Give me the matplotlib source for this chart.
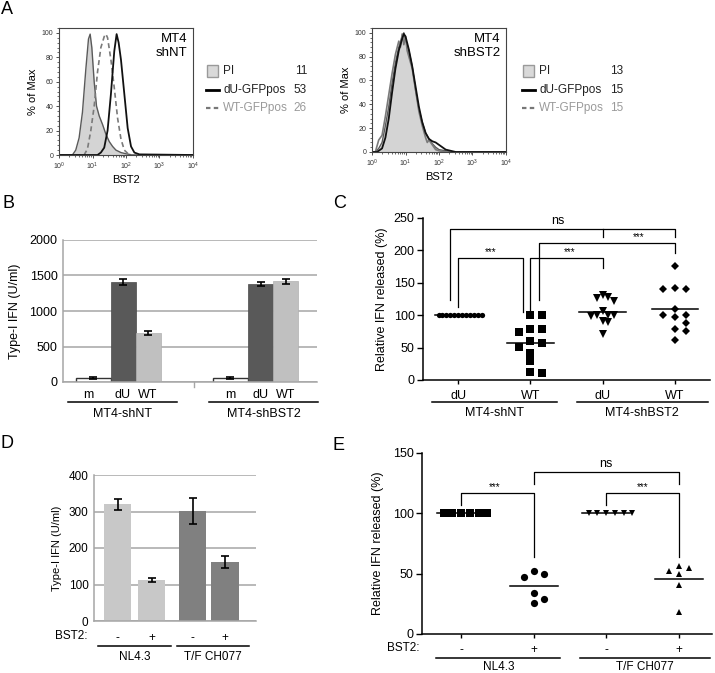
import numpy as np
import matplotlib
matplotlib.use("Agg")
import matplotlib.pyplot as plt
from matplotlib.patches import Rectangle
from matplotlib.lines import Line2D
from matplotlib.transforms import blended_transform_factory
from matplotlib.ticker import MultipleLocator, LogLocator, NullFormatter

plt.rcParams['font.family'] = ['Liberation Sans', 'DejaVu Sans']
plt.rcParams['mathtext.fontset'] = 'custom'
plt.rcParams['mathtext.rm'] = 'Liberation Sans'

# === data ===
# A: BST2 staining histograms (log10 BST2, % of max)
nt_pi_x = [0.0, 0.40, 0.50, 0.60, 0.70, 0.80, 0.88, 0.93, 0.98, 1.05, 1.12, 1.20, 1.30,
           1.40, 1.50, 1.60, 1.70, 1.85, 2.0, 2.2, 4.0]
nt_pi_y = [0, 0, 4, 14, 35, 70, 95, 99, 88, 60, 40, 32, 25, 17, 11, 7, 4, 2, 1, 0, 0]
nt_du_x = [0, 1.15, 1.25, 1.35, 1.45, 1.55, 1.65, 1.72, 1.78, 1.85, 1.95, 2.05, 2.15,
           2.25, 2.4, 4.0]
nt_du_y = [0, 0, 2, 6, 20, 50, 85, 99, 92, 78, 50, 22, 7, 2, 0.5, 0]
nt_wt_x = [0, 0.75, 0.85, 0.95, 1.05, 1.15, 1.25, 1.35, 1.40, 1.45, 1.55, 1.65, 1.75,
           1.85, 1.95, 2.1, 4.0]
nt_wt_y = [0, 0, 5, 20, 40, 68, 88, 97, 99, 96, 78, 55, 30, 13, 4, 0, 0]

sh_pi_x = [0, 0.1, 0.2, 0.3, 0.4, 0.5, 0.6, 0.7, 0.8, 0.9, 0.95, 1.0, 1.1, 1.2, 1.3,
           1.4, 1.5, 1.6, 1.7, 1.8, 1.9, 2.0, 2.2, 2.4, 4.0]
sh_pi_y = [0, 0, 3, 8, 22, 38, 58, 75, 88, 97, 100, 95, 85, 72, 52, 36, 25, 16, 11, 7,
           4, 2, 1, 0, 0]
sh_du_x = [0, 0.15, 0.3, 0.4, 0.5, 0.6, 0.7, 0.8, 0.9, 0.95, 1.0, 1.1, 1.2, 1.3, 1.4,
           1.5, 1.6, 1.7, 1.8, 1.9, 2.0, 2.1, 2.2, 2.35, 2.5, 4.0]
sh_du_y = [0, 0, 3, 12, 28, 50, 70, 85, 95, 99, 97, 86, 72, 55, 38, 25, 16, 11, 9, 8,
           6, 4, 2, 1, 0, 0]
sh_wt_x = [0, 0.1, 0.2, 0.25, 0.3, 0.4, 0.5, 0.6, 0.7, 0.8, 0.85, 0.9, 0.95, 1.0, 1.05,
           1.1, 1.2, 1.3, 1.4, 1.5, 1.6, 1.65, 1.7, 1.8, 1.9, 2.0, 2.2, 4.0]
sh_wt_y = [0, 0, 10, 12, 14, 30, 48, 66, 82, 93, 88, 99, 90, 97, 85, 80, 70, 52, 34, 22,
           12, 8, 10, 6, 2, 1, 0, 0]

hist_legend = ["PI", "dU-GFPpos", "WT-GFPpos"]
nt_mfi = [11, 53, 26]
sh_mfi = [13, 15, 15]

# B: type-I IFN (U/ml)
b_groups = ["MT4-shNT", "MT4-shBST2"]
b_virus = ["m", "dU", "WT"]
b_nt_vals = [60, 1410, 690]
b_nt_err = [15, 40, 22]
b_sh_vals = [60, 1382, 1418]
b_sh_err = [15, 30, 38]

# C: relative IFN released (%)
c_labels = ["dU", "WT", "dU", "WT"]
c_groups = ["MT4-shNT", "MT4-shBST2"]
c_du_nt = [100] * 12
c_wt_nt = [100, 100, 79, 74, 78, 60, 57, 51, 42, 29, 11, 12]
c_du_sh = [128, 131, 122, 126, 100, 100, 101, 106, 91, 89, 71, 98]
c_wt_sh = [176, 142, 140, 141, 110, 101, 101, 97, 88, 78, 75, 61]

# D: type-I IFN (U/ml)
d_bst2 = ["-", "+", "-", "+"]
d_groups = ["NL4.3", "T/F CH077"]
d_vals = [320, 111, 302, 161]
d_err = [15, 5.5, 36, 17]

# E: relative IFN released (%)
e_bst2 = ["-", "+", "-", "+"]
e_groups = ["NL4.3", "T/F CH077"]
e_nl_minus = [100] * 6
e_nl_plus = [52.5, 47, 49.7, 34.2, 26, 28.7]
e_tf_minus = [100] * 6
e_tf_plus = [55, 49.4, 52, 56.6, 40.3, 18]

# === figure helpers (pixel layout) ===
W, H = 715, 673
fig = plt.figure(figsize=(W / 100, H / 100), dpi=100)


def px_axes(l, t, r, b):
    return fig.add_axes([l / W, 1 - b / H, (r - l) / W, (b - t) / H])


def ftext(x, y, s, **kw):
    fig.text(x / W, 1 - y / H, s, **kw)


def swarm(vals, step, thr):
    # spread points of similar value sideways (column scatter)
    vals = np.asarray(vals, float)
    offs = np.zeros(len(vals))
    placed = []
    for i in np.argsort(-vals, kind="stable"):
        k = 0
        while True:
            slot = ((k + 1) // 2) * (1 if k % 2 else -1)
            if not any(s == slot and abs(v - vals[i]) < thr for s, v in placed):
                break
            k += 1
        placed.append((slot, vals[i]))
        offs[i] = slot * step
    return offs


def group_lines(ax, spans, labels, y_line, y_text, fs):
    tr = blended_transform_factory(ax.transData, ax.transAxes)
    for (x0, x1), lab in zip(spans, labels):
        ax.plot([x0, x1], [y_line, y_line], color="k", lw=1.1, transform=tr, clip_on=False)
        ax.text((x0 + x1) / 2, y_text, lab, transform=tr, ha="center", va="center", fontsize=fs)


# panel letters
for lab, x, y in [("A", 7, 10), ("B", 9, 204), ("C", 340, 204), ("D", 7, 444), ("E", 339, 445)]:
    ftext(x, y, lab, fontsize=13, ha="center", va="center")

# === A: histograms ===
hist_sets = [
    ((59, 28, 193, 155), "MT4\nshNT", nt_pi_x, nt_pi_y, nt_du_x, nt_du_y, nt_wt_x, nt_wt_y, "--"),
    ((372, 28, 506, 152), "MT4\nshBST2", sh_pi_x, sh_pi_y, sh_du_x, sh_du_y, sh_wt_x, sh_wt_y, "-"),
]
for rect, title, px_, py_, dx_, dy_, wx_, wy_, wls in hist_sets:
    ax = px_axes(*rect)
    ax.fill_between(10 ** np.array(px_), py_, color="#d4d4d4", lw=0)
    ax.plot(10 ** np.array(px_), py_, color="#5a5a5a", lw=1.0)
    ax.plot(10 ** np.array(wx_), wy_, color="#7a7a7a", lw=1.2, ls=wls, dashes=(3, 2) if wls == "--" else (None, None))
    ax.plot(10 ** np.array(dx_), dy_, color="#111111", lw=1.3)
    ax.set_xscale("log")
    ax.set_xlim(1, 1e4)
    ax.set_ylim(0, 104)
    ax.yaxis.set_major_locator(MultipleLocator(20))
    ax.yaxis.set_minor_locator(MultipleLocator(4))
    ax.xaxis.set_major_locator(LogLocator(base=10, numticks=10))
    ax.xaxis.set_minor_locator(LogLocator(base=10, subs=np.arange(2, 10), numticks=10))
    ax.xaxis.set_minor_formatter(NullFormatter())
    ax.tick_params(which="major", length=2.5, width=0.6, labelsize=5, pad=1.5, colors="#333333")
    ax.tick_params(which="minor", length=1.3, width=0.5, colors="#333333")
    for s in ax.spines.values():
        s.set_color("#444444")
        s.set_linewidth(0.8)
    ax.set_ylabel("% of Max", fontsize=8, labelpad=3)
    ax.set_xlabel("BST2", fontsize=8, labelpad=2)
    ax.text(0.96, 0.96, title, transform=ax.transAxes, ha="right", va="top",
            fontsize=9.5, linespacing=1.25)

# legends of A
for x0, xnum, mfi in [(207, 307, nt_mfi), (523, 623, sh_mfi)]:
    rows = [71, 90, 108]
    fig.add_artist(Rectangle((x0 / W, 1 - (rows[0] + 5.5) / H), 11 / W, 11 / H,
                             transform=fig.transFigure, fc="#d9d9d9", ec="#9a9a9a", lw=1))
    fig.add_artist(Line2D([(x0 - 1) / W, (x0 + 12) / W], [1 - rows[1] / H] * 2,
                          transform=fig.transFigure, color="k", lw=2))
    fig.add_artist(Line2D([(x0 - 1) / W, (x0 + 12) / W], [1 - rows[2] / H] * 2,
                          transform=fig.transFigure, color="#777777", lw=1.6, ls=(0, (2, 1.5))))
    colors = ["#222222", "#222222", "#9a9a9a"]
    for name, val, y, c in zip(hist_legend, mfi, rows, colors):
        ftext(x0 + 16, y, name, fontsize=8.5, va="center", ha="left", color=c)
        ftext(xnum, y, str(val), fontsize=8.5, va="center", ha="right", color=c)

# === B: bar chart ===
axb = px_axes(63, 240, 317, 382)
b_pos = [1.2, 2.4, 3.4, 6.7, 7.9, 8.9]
b_width = [1.4, 1.0, 1.0, 1.4, 1.0, 1.0]
b_colors = ["white", "#595959", "#c0c0c0"] * 2
b_vals = b_nt_vals + b_sh_vals
b_err = b_nt_err + b_sh_err
axb.set_axisbelow(True)
axb.yaxis.grid(True, color="#a6a6a6", lw=1.1)
axb.bar(b_pos, b_vals, width=b_width, color=b_colors,
        edgecolor=["#333333", "#4a4a4a", "#b0b0b0"] * 2, linewidth=[1.0, 0.5, 0.5] * 2, zorder=2)
axb.errorbar(b_pos, b_vals, yerr=b_err, fmt="none", ecolor="k", elinewidth=1.2,
             capsize=3.2, capthick=1.2, zorder=3)
axb.set_xlim(0, 10.16)
axb.set_ylim(0, 2000)
axb.set_yticks([0, 500, 1000, 1500, 2000])
axb.set_xticks([1.0, 2.4, 3.4, 6.7, 7.9, 8.9])
axb.set_xticklabels(b_virus * 2)
axb.tick_params(axis="both", length=0, labelsize=9)
axb.tick_params(axis="x", pad=5)
axb.tick_params(axis="y", pad=4)
for s in ["top", "right"]:
    axb.spines[s].set_visible(False)
for s in ["left", "bottom"]:
    axb.spines[s].set_color("#a6a6a6")
    axb.spines[s].set_linewidth(1.1)
axb.plot([5.24, 5.24], [0, -0.035], color="#a6a6a6", lw=1,
         transform=blended_transform_factory(axb.transData, axb.transAxes), clip_on=False)
axb.set_ylabel("Type-I IFN (U/ml)", fontsize=9, labelpad=6)
group_lines(axb, [(0.2, 4.56), (5.84, 10.2)], b_groups, -0.141, -0.225, 9)

# === C: scatter with means ===
axc = px_axes(423, 218, 710, 380)
c_sets = [
    (1, c_du_nt, "o", 3.8, 0.055),
    (2, c_wt_nt, "s", 5.2, 0.16),
    (3, c_du_sh, "v", 5.2, 0.08),
    (4, c_wt_sh, "D", 3.6, 0.16),
]
for xc, vals, mk, ms, step in c_sets:
    offs = swarm(vals, step, 10)
    axc.plot(xc + offs, vals, ls="none", marker=mk, ms=ms, color="k", mew=0, zorder=3)
    m = np.mean(vals)
    axc.plot([xc - 0.32, xc + 0.32], [m, m], color="k", lw=1.1, zorder=2)
axc.set_xlim(0.51, 4.49)
axc.set_ylim(0, 250)
axc.set_yticks([0, 50, 100, 150, 200, 250])
axc.set_xticks([1, 2, 3, 4])
axc.set_xticklabels(c_labels)
axc.tick_params(axis="y", length=4, width=1, labelsize=9, pad=2)
axc.tick_params(axis="x", length=3, width=1, labelsize=9, pad=4)
for s in ["top", "right"]:
    axc.spines[s].set_visible(False)
for s in ["left", "bottom"]:
    axc.spines[s].set_linewidth(1.1)
axc.set_ylabel("Relative IFN released (%)", fontsize=9, labelpad=4)
group_lines(axc, [(0.64, 2.37), (2.64, 4.46)], c_groups, -0.136, -0.205, 9)

bk = dict(color="k", lw=0.9, clip_on=False)
axc.plot([1, 1, 1.89, 1.89], [113, 188, 188, 105], **bk)
axc.text(1.45, 189, "***", ha="center", va="bottom", fontsize=7)
axc.plot([2.0, 2.0, 3.0, 3.0], [105, 188, 188, 173], **bk)
axc.text(2.55, 189, "***", ha="center", va="bottom", fontsize=7)
axc.plot([2.12, 2.12, 4.0, 4.0], [124, 212, 212, 196], **bk)
axc.text(3.5, 213, "***", ha="center", va="bottom", fontsize=7)
axc.plot([0.88, 0.88, 4.0, 4.0], [124, 233, 233, 221], **bk)
axc.plot([3.0, 3.0], [233, 221], **bk)
axc.text(2.38, 236, "ns", ha="center", va="bottom", fontsize=9)

# === D: bar chart ===
axd = px_axes(94, 475, 256, 621)
d_pos = [0.7, 1.7, 2.9, 3.85]
d_colors = ["#c8c8c8", "#c8c8c8", "#808080", "#808080"]
axd.set_axisbelow(True)
axd.yaxis.grid(True, color="#a6a6a6", lw=1.1)
axd.bar(d_pos, d_vals, width=0.8, color=d_colors, zorder=2)
axd.errorbar(d_pos, d_vals, yerr=d_err, fmt="none", ecolor="k", elinewidth=1.2,
             capsize=3, capthick=1.2, zorder=3)
axd.set_xlim(0, 4.76)
axd.set_ylim(0, 400)
axd.set_yticks([0, 100, 200, 300, 400])
axd.set_xticks(d_pos)
axd.set_xticklabels(d_bst2)
axd.tick_params(axis="both", length=0, labelsize=8.5)
axd.tick_params(axis="x", pad=8)
axd.tick_params(axis="y", pad=4)
for s in ["top", "right"]:
    axd.spines[s].set_visible(False)
for s in ["left", "bottom"]:
    axd.spines[s].set_color("#a6a6a6")
    axd.spines[s].set_linewidth(1.1)
axd.set_ylabel("Type-I IFN (U/ml)", fontsize=8, labelpad=5)
ftext(87, 636, "BST2:", fontsize=8.5, ha="right", va="center")
group_lines(axd, [(0.12, 2.26), (2.44, 4.56)], d_groups, -0.171, -0.247, 8.5)

# === E: scatter with means ===
axe = px_axes(422, 453, 712, 634)
e_sets = [
    (1, e_nl_minus, "s", 5.2, 0.12),
    (2, e_nl_plus, "o", 5.2, 0.14),
    (3, e_tf_minus, "v", 5.0, 0.12),
    (4, e_tf_plus, "^", 5.0, 0.14),
]
for xc, vals, mk, ms, step in e_sets:
    offs = swarm(vals, step, 5.8)
    axe.plot(xc + offs, vals, ls="none", marker=mk, ms=ms, color="k", mew=0, zorder=3)
    m = np.mean(vals)
    axe.plot([xc - 0.33, xc + 0.33], [m, m], color="k", lw=1.1, zorder=2)
axe.set_xlim(0.46, 4.46)
axe.set_ylim(0, 150)
axe.set_yticks([0, 50, 100, 150])
axe.set_xticks([1, 2, 3, 4])
axe.set_xticklabels(e_bst2)
axe.tick_params(axis="y", length=4, width=1, labelsize=9, pad=2)
axe.tick_params(axis="x", length=3, width=1, labelsize=8.5, pad=4)
for s in ["top", "right"]:
    axe.spines[s].set_visible(False)
for s in ["left", "bottom"]:
    axe.spines[s].set_linewidth(1.1)
axe.set_ylabel("Relative IFN released (%)", fontsize=9, labelpad=6)
ftext(420, 648, "BST2:", fontsize=8.5, ha="right", va="center")
group_lines(axe, [(0.655, 2.37), (2.64, 4.43)], e_groups, -0.135, -0.18, 8.5)

axe.plot([1, 1, 2, 2], [107, 117, 117, 64], **bk)
axe.text(1.46, 118, "***", ha="center", va="bottom", fontsize=7)
axe.plot([3, 3, 4, 4], [107, 117, 117, 64], **bk)
axe.text(3.5, 118, "***", ha="center", va="bottom", fontsize=7)
axe.plot([2, 2, 4, 4], [124, 134.5, 134.5, 124], **bk)
axe.text(3.0, 136, "ns", ha="center", va="bottom", fontsize=9)

fig.savefig("out.png", dpi=100)
